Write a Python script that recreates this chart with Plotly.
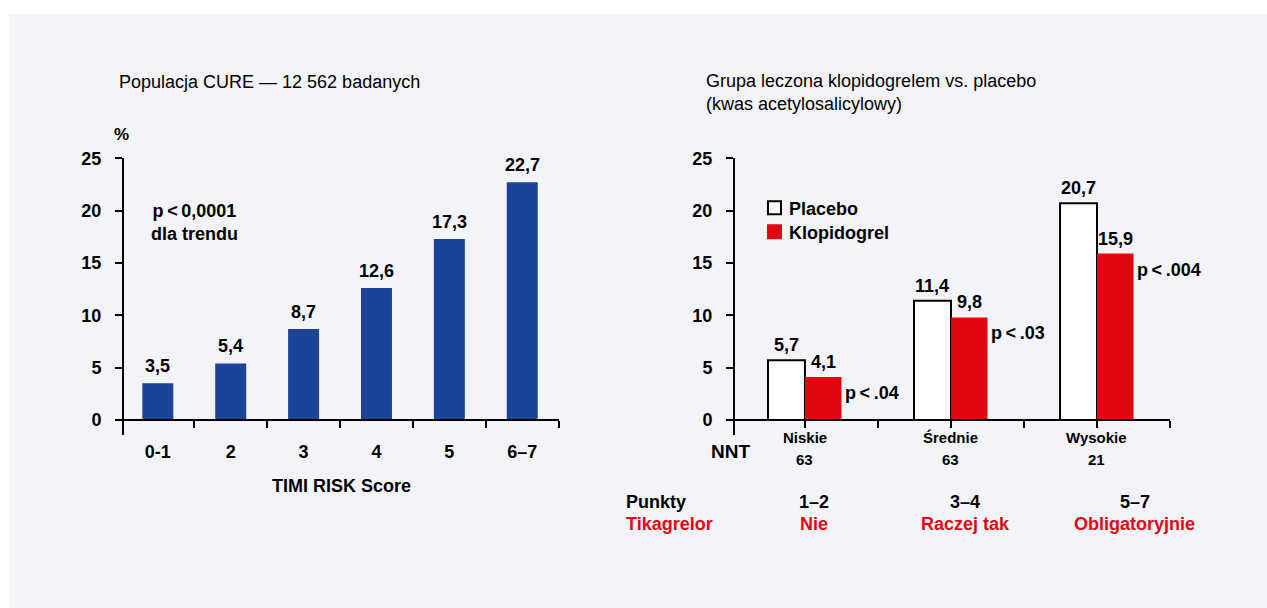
import plotly.graph_objects as go

W, H = 1267, 608

# --- dane ---
timi_kategorie = ["0-1", "2", "3", "4", "5", "6–7"]
timi_odsetki = [3.5, 5.4, 8.7, 12.6, 17.3, 22.7]

grupy_ryzyka = ["Niskie", "Średnie", "Wysokie"]
nnt = [63, 63, 21]
placebo = [5.7, 11.4, 20.7]
klopidogrel = [4.1, 9.8, 15.9]
wartosci_p = ["p<.04", "p<.03", "p<.004"]
punkty = ["1–2", "3–4", "5–7"]
tikagrelor = ["Nie", "Raczej tak", "Obligatoryjnie"]

y_ticks = [0, 5, 10, 15, 20, 25]

NIEBIESKI = "#1b4397"
CZERWONY = "#e20613"
TLO = "#f3f4f9"
FONT = "Liberation Sans, Arial, Helvetica, sans-serif"


def px(x):
    return x / W


def py(y):
    # piksel docelowy -> współrzędna paper (z poprawką na przesunięcie strony ~8 px)
    f = y * (H + 8) / H - 8
    return 1 - f / H


def fmt(v):
    return f"{v:.1f}".replace(".", ",")


def fmt_p(t):
    # trochę powietrza wokół znaku "<", jak w oryginale
    return t.replace("<", "\u2009&lt;\u2009")


fig = go.Figure()

# --- wykres lewy ---
fig.add_trace(go.Bar(
    x=timi_kategorie, y=timi_odsetki, width=0.425,
    marker=dict(color=NIEBIESKI, line=dict(width=0)),
    xaxis="x", yaxis="y", hoverinfo="skip",
))

# --- wykres prawy ---
idx = list(range(len(grupy_ryzyka)))
fig.add_trace(go.Bar(
    x=idx, y=placebo, width=0.253, offset=-0.253, name="Placebo",
    marker=dict(color="white", line=dict(color="black", width=2)),
    xaxis="x2", yaxis="y2", hoverinfo="skip",
))
fig.add_trace(go.Bar(
    x=idx, y=klopidogrel, width=0.25, offset=0, name="Klopidogrel",
    marker=dict(color=CZERWONY, line=dict(width=0)),
    xaxis="x2", yaxis="y2", hoverinfo="skip",
))

os_y = dict(
    range=[-1.4, 25], domain=[py(434), py(156.7)],
    showline=True, linecolor="black", linewidth=2,
    ticks="outside", ticklen=7, tickwidth=2, tickcolor="black",
    tickvals=y_ticks, ticklabelstandoff=10,
    tickfont=dict(family=FONT, size=18, color="black", weight="bold"),
    showgrid=False, zeroline=False,
)
os_x = dict(
    anchor="free", position=py(419.3),
    showline=True, linecolor="black", linewidth=2,
    ticks="outside", ticklen=7, tickwidth=2, tickcolor="black",
    showgrid=False, zeroline=False,
)

fig.update_layout(
    width=W, height=H, autosize=False,
    margin=dict(l=0, r=0, t=0, b=0),
    paper_bgcolor="white", plot_bgcolor="rgba(0,0,0,0)",
    barmode="overlay", showlegend=False, separators=", ",
    font=dict(family=FONT, color="black"),
    xaxis=dict(
        os_x, domain=[px(124), px(558.7)], range=[-0.464, 5.5],
        type="category", tickson="boundaries", ticklabelstandoff=15,
        tickfont=dict(family=FONT, size=18, color="black", weight="bold"),
    ),
    yaxis=dict(os_y, anchor="x"),
    xaxis2=dict(
        os_x, domain=[px(735), px(1170)], range=[-0.479, 2.5],
        tickvals=[0, 0.5, 1, 1.5, 2, 2.5], showticklabels=False,
    ),
    yaxis2=dict(os_y, anchor="x2"),
)

# tło panelu
fig.add_shape(type="rect", xref="paper", yref="paper",
              x0=px(9), x1=1, y0=0, y1=py(12),
              fillcolor=TLO, line_width=0, layer="below")

ann = []


def tekst(x, y, t, size=18, bold=True, color="black", xanchor="center", **kw):
    ann.append(dict(
        x=x, y=y, text=t, showarrow=False, xanchor=xanchor,
        yanchor=kw.pop("yanchor", "middle"),
        xref=kw.pop("xref", "paper"), yref=kw.pop("yref", "paper"),
        font=dict(family=FONT, size=size, color=color,
                  weight="bold" if bold else "normal"),
        **kw,
    ))


# etykiety wartości
for i, v in enumerate(timi_odsetki):
    tekst(i, v, fmt(v), xref="x", yref="y", yanchor="bottom", yshift=5)
for i, (p, k, pv) in enumerate(zip(placebo, klopidogrel, wartosci_p)):
    tekst(i - 0.1265, p, fmt(p), xref="x2", yref="y2", yanchor="bottom", yshift=3)
    tekst(i + 0.125, k, fmt(k), xref="x2", yref="y2", yanchor="bottom", yshift=3)
    tekst(i + 0.25, k, fmt_p(pv), xref="x2", yref="y2", xanchor="left", xshift=2, yshift=-16)

# grupy ryzyka i NNT pod osią
for i, (g, n) in enumerate(zip(grupy_ryzyka, nnt)):
    tekst(i, py(437), g, size=15, xref="x2")
    tekst(i, py(459), str(n), size=15, xref="x2")

# tytuły i opisy
tekst(px(117), py(80), "Populacja CURE — 12 562 badanych", bold=False, xanchor="left")
tekst(px(704), py(91), "Grupa leczona klopidogrelem vs. placebo<br>(kwas acetylosalicylowy)",
      bold=False, xanchor="left", align="left")
tekst(px(121), py(133), "%", size=17)
tekst(px(194), py(221), fmt_p("p<0,0001") + "<br>dla trendu")
tekst(px(341), py(486), "TIMI RISK Score")
tekst(px(730), py(451), "NNT", size=19)

# legenda
for yy, nazwa, kolor in [(206.3, "Placebo", "white"), (230.5, "Klopidogrel", CZERWONY)]:
    fig.add_shape(type="rect", xref="paper", yref="paper",
                  x0=px(768), x1=px(781), y0=py(yy + 6.5), y1=py(yy - 6.5),
                  fillcolor=kolor,
                  line=dict(color="black" if kolor == "white" else CZERWONY, width=2))
    tekst(px(787), py(yy + 1), nazwa, xanchor="left")

# dolne wiersze
tekst(px(624), py(502), "Punkty", xanchor="left")
tekst(px(624), py(524), "Tikagrelor", xanchor="left", color=CZERWONY)
for xc, pk, tk in zip([814, 965, 1134.5], punkty, tikagrelor):
    tekst(px(xc), py(502), pk)
    tekst(px(xc), py(524), tk, color=CZERWONY)

fig.update_layout(annotations=ann)

fig.write_html(
    "out.html",
    config={"displayModeBar": False},
    post_script=(
        "document.documentElement.style.margin='0';"
        "document.body.style.margin='0';"
        "var d=document.getElementById('{plot_id}');"
        "d.style.position='fixed';d.style.top='0';d.style.left='0';"
    ),
)
